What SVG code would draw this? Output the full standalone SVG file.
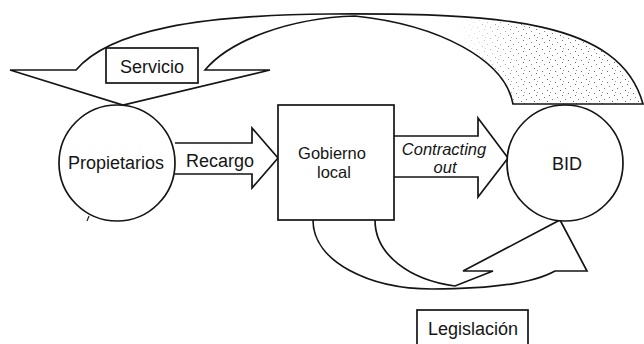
<svg xmlns="http://www.w3.org/2000/svg" width="644" height="344" viewBox="0 0 644 344">
<style>
.ln{fill:none;stroke:#151515;stroke-width:1.7;stroke-linejoin:miter}
.nd{fill:#fff;stroke:#151515;stroke-width:1.7}
.t{font-family:"Liberation Sans",Arial,sans-serif;font-size:18px;fill:#151515;text-anchor:middle}
.s{font-size:16.5px}
.i{font-style:italic}
</style>
<defs>
<pattern id="stip" width="13" height="11" patternUnits="userSpaceOnUse">
<rect x="1" y="2" width="1" height="1" fill="#444"/>
<rect x="6" y="0" width="1" height="1" fill="#666"/>
<rect x="9" y="5" width="1" height="1" fill="#555"/>
<rect x="3" y="7" width="1" height="1" fill="#555"/>
<rect x="11" y="9" width="1" height="1" fill="#777"/>
<rect x="4" y="4" width="1" height="1" fill="#888"/>
</pattern>
<linearGradient id="fg" gradientUnits="userSpaceOnUse" x1="455" y1="0" x2="530" y2="0">
<stop offset="0" stop-color="#000"/>
<stop offset="1" stop-color="#ddd"/>
</linearGradient>
<mask id="fade" maskUnits="userSpaceOnUse" x="0" y="0" width="644" height="344">
<rect x="0" y="0" width="644" height="344" fill="url(#fg)"/>
</mask>
</defs>
<rect width="644" height="344" fill="#fff"/>
<g id="connectors">
<g id="servicio-arrow">
<path d="M330,14 C500,13 620,20 643,104 L513,104 C505,60 440,25 355,16 Z" fill="url(#stip)" mask="url(#fade)"/>
<path class="ln" d="M10,70 L76,70 C110,30 200,15 330,14 C500,13 620,20 643,104 L513,104 C505,60 440,25 355,16 C290,18 230,40 205,70 L270,70 L123,105 Z"/>
</g>
<g id="legislacion-arrow">
<path class="ln" d="M313,220 C313,262 370,289 432,289 C480,289 530,285 555,271 L587,271 L560,220 L463,271 L493,271 L455,286 C410,280 375,255 375,220"/>
</g>
<g id="recargo-arrow">
<path class="nd" d="M175,143 L252,143 L252,128 L278,158 L252,188 L252,174 L175,174"/>
<text class="t" x="220" y="167">Recargo</text>
</g>
<g id="contracting-arrow">
<path class="nd" d="M394,136 L478,136 L478,118 L508,158 L478,197 L478,177 L394,177"/>
<text class="t s i" x="444" y="155">Contracting</text>
<text class="t s i" x="445" y="173">out</text>
</g>
</g>
<g id="propietarios">
<circle class="nd" cx="117" cy="163" r="58"/>
<text class="t" x="116" y="169">Propietarios</text>
</g>
<g id="gobierno-local">
<rect class="nd" x="278" y="105" width="116" height="115"/>
<text class="t s" x="332" y="159">Gobierno</text>
<text class="t s" x="334" y="178">local</text>
</g>
<g id="bid">
<circle class="nd" cx="565" cy="163" r="58"/>
<text class="t" x="567" y="170">BID</text>
</g>
<g id="servicio">
<rect class="nd" x="106" y="48" width="92" height="35"/>
<text class="t" x="152" y="73">Servicio</text>
</g>
<g id="legislacion">
<rect class="nd" x="417" y="310" width="111" height="40"/>
<text class="t" x="473" y="335">Legislación</text>
</g>
<path d="M87,221 L89,216" stroke="#222" stroke-width="1.2" fill="none"/>
</svg>
